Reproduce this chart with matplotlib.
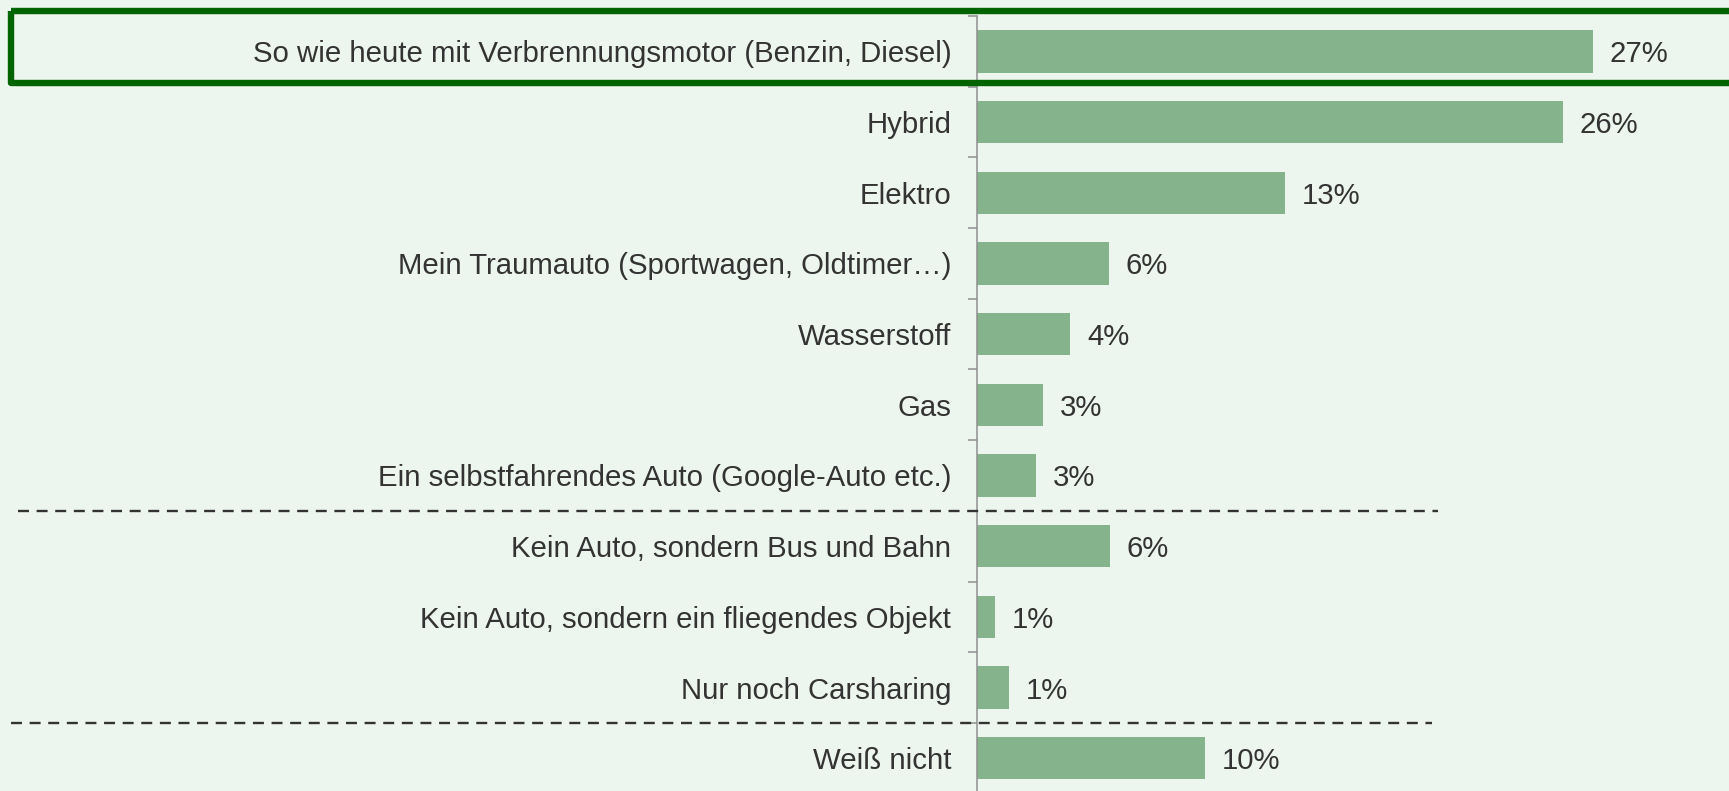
import matplotlib
matplotlib.use('Agg')
from matplotlib import pyplot as plt
from matplotlib.lines import Line2D
from matplotlib.patches import Rectangle
import matplotlib.transforms as mtransforms
import numpy as np

categories = [
    'So wie heute mit Verbrennungsmotor (Benzin, Diesel)',
    'Hybrid',
    'Elektro',
    'Mein Traumauto (Sportwagen, Oldtimer\u2026)',
    'Wasserstoff',
    'Gas',
    'Ein selbstfahrendes Auto (Google-Auto etc.)',
    'Kein Auto, sondern Bus und Bahn',
    'Kein Auto, sondern ein fliegendes Objekt',
    'Nur noch Carsharing',
    'Wei\u00df nicht',
]
values = [27.0, 25.7, 13.5, 5.8, 4.1, 2.9, 2.6, 5.83, 0.8, 1.4, 10.0]
value_labels = ['27%', '26%', '13%', '6%', '4%', '3%', '3%', '6%', '1%', '1%', '10%']
separators = [6.5, 9.5]

plt.rcParams['font.family'] = ['Liberation Sans', 'DejaVu Sans']
plt.rcParams['lines.scale_dashes'] = False

BG = '#edf6ee'
BAR = '#84b38c'
TXT = '#333333'
AXC = '#8f8f8f'
FS = 21.2

W, H = 1729, 791
fig = plt.figure(figsize=(W / 100, H / 100), dpi=100, facecolor=BG)
ax = fig.add_axes([977 / W, 1 - 793.6 / H, 1 - 977 / W, 777.6 / H])
ax.set_facecolor(BG)

y = np.arange(len(categories))
ax.barh(y, values, height=0.6, color=BAR, edgecolor='none')
ax.set_ylim(len(categories) - 0.5, -0.5)
ax.set_xlim(0, 752 / 22.8)

for yi, v, lab in zip(y, values, value_labels):
    ax.annotate(lab, (v, yi), xytext=(12, 0), textcoords='offset points',
                va='center_baseline', ha='left', fontsize=FS, color=TXT)

for s in ['top', 'right', 'bottom']:
    ax.spines[s].set_visible(False)
ax.spines['left'].set_color(AXC)
ax.spines['left'].set_linewidth(1.1)
ax.set_xticks([])
ax.set_yticks(y)
ax.set_yticklabels(categories, fontsize=FS, color=TXT)
ax.tick_params(axis='y', which='major', length=0, pad=18.5)
ax.set_yticks(np.arange(len(categories) + 1) - 0.5, minor=True)
ax.tick_params(axis='y', which='minor', length=6.5, width=1.1, color=AXC, direction='out')

# dashed group separators, spanning from the left edge into the plot
trans = mtransforms.blended_transform_factory(fig.transFigure, ax.transData)
for sep, x0, x1 in zip(separators, [18 / W, 11 / W], [1438 / W, 1432 / W]):
    ln = Line2D([x0, x1], [sep, sep], transform=trans, color=TXT, lw=1.7,
                linestyle=(0, (7.9, 5.5)), clip_on=False)
    fig.add_artist(ln)

# highlight box around the first row
box = Rectangle((11 / W, -0.57), 1.0, 1.02, transform=trans, fill=False,
                edgecolor='#006400', lw=4.6, joinstyle='round', clip_on=False)
fig.add_artist(box)

fig.savefig('out.png', dpi=100, facecolor=BG)
